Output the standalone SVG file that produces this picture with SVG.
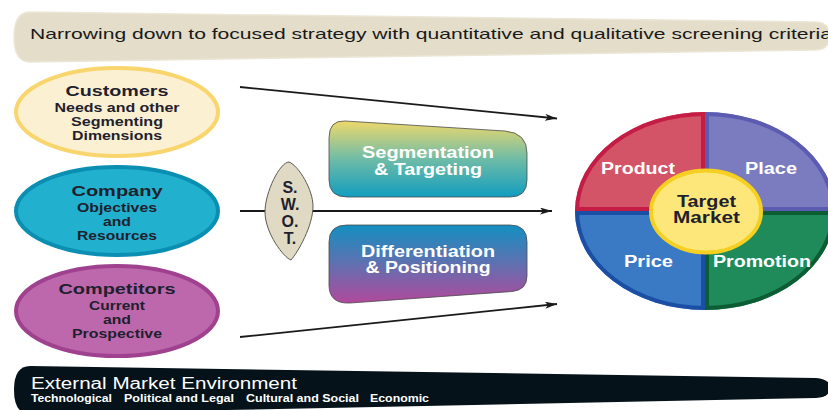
<svg xmlns="http://www.w3.org/2000/svg" width="828" height="410" viewBox="0 0 828 410">
  <style>
    .sans { font-family: "Liberation Sans", Arial, sans-serif; }
    .title { font-family: "Liberation Sans", Arial, sans-serif; font-weight: bold; font-size: 16px; fill: #1f1f2d; text-anchor: middle; }
    .head { font-family: "Liberation Sans", Arial, sans-serif; font-weight: bold; font-size: 15px; fill: #1f1f2d; text-anchor: middle; }
    .sub { font-family: "Liberation Sans", Arial, sans-serif; font-weight: bold; font-size: 13px; fill: #1f1f2d; text-anchor: middle; }
    .wlabel { font-family: "Liberation Sans", Arial, sans-serif; font-weight: bold; font-size: 16px; fill: #ffffff; text-anchor: middle; }
    .conn { fill: none; stroke: #1a1a1a; stroke-width: 1.8; }
    .box { stroke: #4a4a4a; stroke-width: 0.8; }
  </style>
  <defs>
    <marker id="arrow" markerUnits="userSpaceOnUse" markerWidth="14" markerHeight="8" refX="12" refY="3.5" orient="auto">
      <path d="M0,0 L12,3.5 L0,7 L3,3.5 Z" fill="#1a1a1a"/>
    </marker>
    <linearGradient id="gradSeg" x1="0" y1="0" x2="0" y2="1">
      <stop offset="0" stop-color="#eed86c"/>
      <stop offset="0.5" stop-color="#6fbca6"/>
      <stop offset="1" stop-color="#129dc0"/>
    </linearGradient>
    <linearGradient id="gradDiff" x1="0" y1="0" x2="0" y2="1">
      <stop offset="0" stop-color="#138fc0"/>
      <stop offset="0.5" stop-color="#6070b0"/>
      <stop offset="1" stop-color="#b2489c"/>
    </linearGradient>
    <path id="qProduct" d="M705,211 L575,211 A130,99 0 0 1 705,112 Z"/>
    <path id="qPlace" d="M705,211 L705,112 A130,99 0 0 1 835,211 Z"/>
    <path id="qPromotion" d="M705,211 L835,211 A130,99 0 0 1 705,310 Z"/>
    <path id="qPrice" d="M705,211 L705,310 A130,99 0 0 1 575,211 Z"/>
    <clipPath id="cProduct"><use href="#qProduct"/></clipPath>
    <clipPath id="cPlace"><use href="#qPlace"/></clipPath>
    <clipPath id="cPromotion"><use href="#qPromotion"/></clipPath>
    <clipPath id="cPrice"><use href="#qPrice"/></clipPath>
  </defs>

  <!-- screening banner -->
  <g id="banner-top">
    <path d="M30,12 L816,22 Q830,23 830,36 Q830,49 816,50 L30,62 Q14,62 14,37 Q14,12 30,12 Z" fill="#e3ddc9" stroke="#ebe6d6" stroke-width="1.5"/>
    <text class="sans" x="30" y="39" font-size="15" fill="#1a1a1a" textLength="802" lengthAdjust="spacingAndGlyphs">Narrowing down to focused strategy with quantitative and qualitative screening criteria</text>
  </g>

  <!-- connectors -->
  <g id="connectors">
    <line class="conn" x1="240" y1="87" x2="557" y2="118.5" marker-end="url(#arrow)"/>
    <line class="conn" x1="240" y1="211" x2="552" y2="211" stroke-width="2.6" marker-end="url(#arrow)"/>
    <line class="conn" x1="240" y1="337" x2="557" y2="304" marker-end="url(#arrow)"/>
  </g>

  <!-- 3 C's -->
  <g id="customers">
    <ellipse cx="117" cy="112" rx="101" ry="44" fill="#fcf0d2" stroke="#f8d66d" stroke-width="4"/>
    <text class="head" x="117" y="96" textLength="103" lengthAdjust="spacingAndGlyphs">Customers</text>
    <text class="sub" x="117" y="111.5" textLength="125" lengthAdjust="spacingAndGlyphs">Needs and other</text>
    <text class="sub" x="117" y="125.5" textLength="92" lengthAdjust="spacingAndGlyphs">Segmenting</text>
    <text class="sub" x="117" y="139.5" textLength="90" lengthAdjust="spacingAndGlyphs">Dimensions</text>
  </g>
  <g id="company">
    <ellipse cx="117" cy="211" rx="101" ry="44" fill="#22b0cf" stroke="#0a8fb3" stroke-width="4"/>
    <text class="head" x="117" y="196" textLength="91" lengthAdjust="spacingAndGlyphs">Company</text>
    <text class="sub" x="117" y="211.5" textLength="80" lengthAdjust="spacingAndGlyphs">Objectives</text>
    <text class="sub" x="117" y="225.5" textLength="28" lengthAdjust="spacingAndGlyphs">and</text>
    <text class="sub" x="117" y="239.5" textLength="80" lengthAdjust="spacingAndGlyphs">Resources</text>
  </g>
  <g id="competitors">
    <ellipse cx="117" cy="311" rx="101" ry="45" fill="#bd68ad" stroke="#a0418f" stroke-width="4"/>
    <text class="head" x="117" y="294" textLength="117" lengthAdjust="spacingAndGlyphs">Competitors</text>
    <text class="sub" x="117" y="309.5" textLength="56" lengthAdjust="spacingAndGlyphs">Current</text>
    <text class="sub" x="117" y="323.5" textLength="28" lengthAdjust="spacingAndGlyphs">and</text>
    <text class="sub" x="117" y="337.5" textLength="90" lengthAdjust="spacingAndGlyphs">Prospective</text>
  </g>

  <!-- SWOT lens -->
  <g id="swot">
    <path d="M289,162 C299,166 313,190 313,206 C313,226 298,252 291,260 C284,258 265,233 265,212 C265,192 280,162 289,162 Z" fill="#e0dac4" stroke="#5a5a50" stroke-width="1"/>
    <text class="title" x="290" y="193">S.</text>
    <text class="title" x="290" y="210">W.</text>
    <text class="title" x="290" y="227">O.</text>
    <text class="title" x="290" y="244">T.</text>
  </g>

  <!-- strategy boxes -->
  <g id="segmentation">
    <path class="box" d="M345,121 L505,131 Q527,133 527,153 L527,180 Q527,197 510,197 L347,197 Q329,197 329,180 L329,138 Q329,120 345,121 Z" fill="url(#gradSeg)"/>
    <text class="wlabel" x="428" y="158" textLength="132" lengthAdjust="spacingAndGlyphs">Segmentation</text>
    <text class="wlabel" x="428" y="175" textLength="108" lengthAdjust="spacingAndGlyphs">&amp; Targeting</text>
  </g>
  <g id="differentiation">
    <path class="box" d="M347,225 L510,225 Q527,225 527,242 L527,276 Q527,290 512,291.5 L350,303 Q329,304 329,285 L329,242 Q329,225 347,225 Z" fill="url(#gradDiff)"/>
    <text class="wlabel" x="428" y="257" textLength="134" lengthAdjust="spacingAndGlyphs">Differentiation</text>
    <text class="wlabel" x="428" y="273" textLength="125" lengthAdjust="spacingAndGlyphs">&amp; Positioning</text>
  </g>

  <!-- marketing mix wheel -->
  <g id="product">
    <use href="#qProduct" fill="#d35466"/>
    <use href="#qProduct" fill="none" stroke="#c41c45" stroke-width="8" clip-path="url(#cProduct)"/>
    <text class="wlabel" x="638" y="174" textLength="74" lengthAdjust="spacingAndGlyphs">Product</text>
  </g>
  <g id="place">
    <use href="#qPlace" fill="#7b7cc0"/>
    <use href="#qPlace" fill="none" stroke="#5b5cb1" stroke-width="8" clip-path="url(#cPlace)"/>
    <text class="wlabel" x="771" y="174" textLength="52" lengthAdjust="spacingAndGlyphs">Place</text>
  </g>
  <g id="price">
    <use href="#qPrice" fill="#3a79c3"/>
    <use href="#qPrice" fill="none" stroke="#1b4fa5" stroke-width="8" clip-path="url(#cPrice)"/>
    <text class="wlabel" x="648.5" y="267" textLength="49" lengthAdjust="spacingAndGlyphs">Price</text>
  </g>
  <g id="promotion">
    <use href="#qPromotion" fill="#1f8b5b"/>
    <use href="#qPromotion" fill="none" stroke="#0c5d34" stroke-width="8" clip-path="url(#cPromotion)"/>
    <text class="wlabel" x="762" y="267" textLength="98" lengthAdjust="spacingAndGlyphs">Promotion</text>
  </g>
  <g id="target-market">
    <ellipse cx="706" cy="211.5" rx="55" ry="41" fill="#fde77a" stroke="#f5d020" stroke-width="4"/>
    <text class="title" x="706.5" y="207" textLength="59" lengthAdjust="spacingAndGlyphs">Target</text>
    <text class="title" x="706.5" y="223" textLength="67" lengthAdjust="spacingAndGlyphs">Market</text>
  </g>

  <!-- environment banner -->
  <g id="banner-bottom">
    <path d="M30,366 L816,378 Q830,379 830,388 Q830,397 816,398 L30,414 Q14,414 14,390 Q14,366 30,366 Z" fill="#06121a"/>
    <text class="sans" x="31" y="388.5" font-size="16" fill="#ffffff" textLength="266" lengthAdjust="spacingAndGlyphs">External Market Environment</text>
    <g class="sans" font-size="10" font-weight="bold" fill="#ffffff">
      <text x="31" y="402" textLength="81" lengthAdjust="spacingAndGlyphs">Technological</text>
      <text x="124" y="402" textLength="110" lengthAdjust="spacingAndGlyphs">Political and Legal</text>
      <text x="246" y="402" textLength="113" lengthAdjust="spacingAndGlyphs">Cultural and Social</text>
      <text x="370" y="402" textLength="59" lengthAdjust="spacingAndGlyphs">Economic</text>
    </g>
  </g>
</svg>
